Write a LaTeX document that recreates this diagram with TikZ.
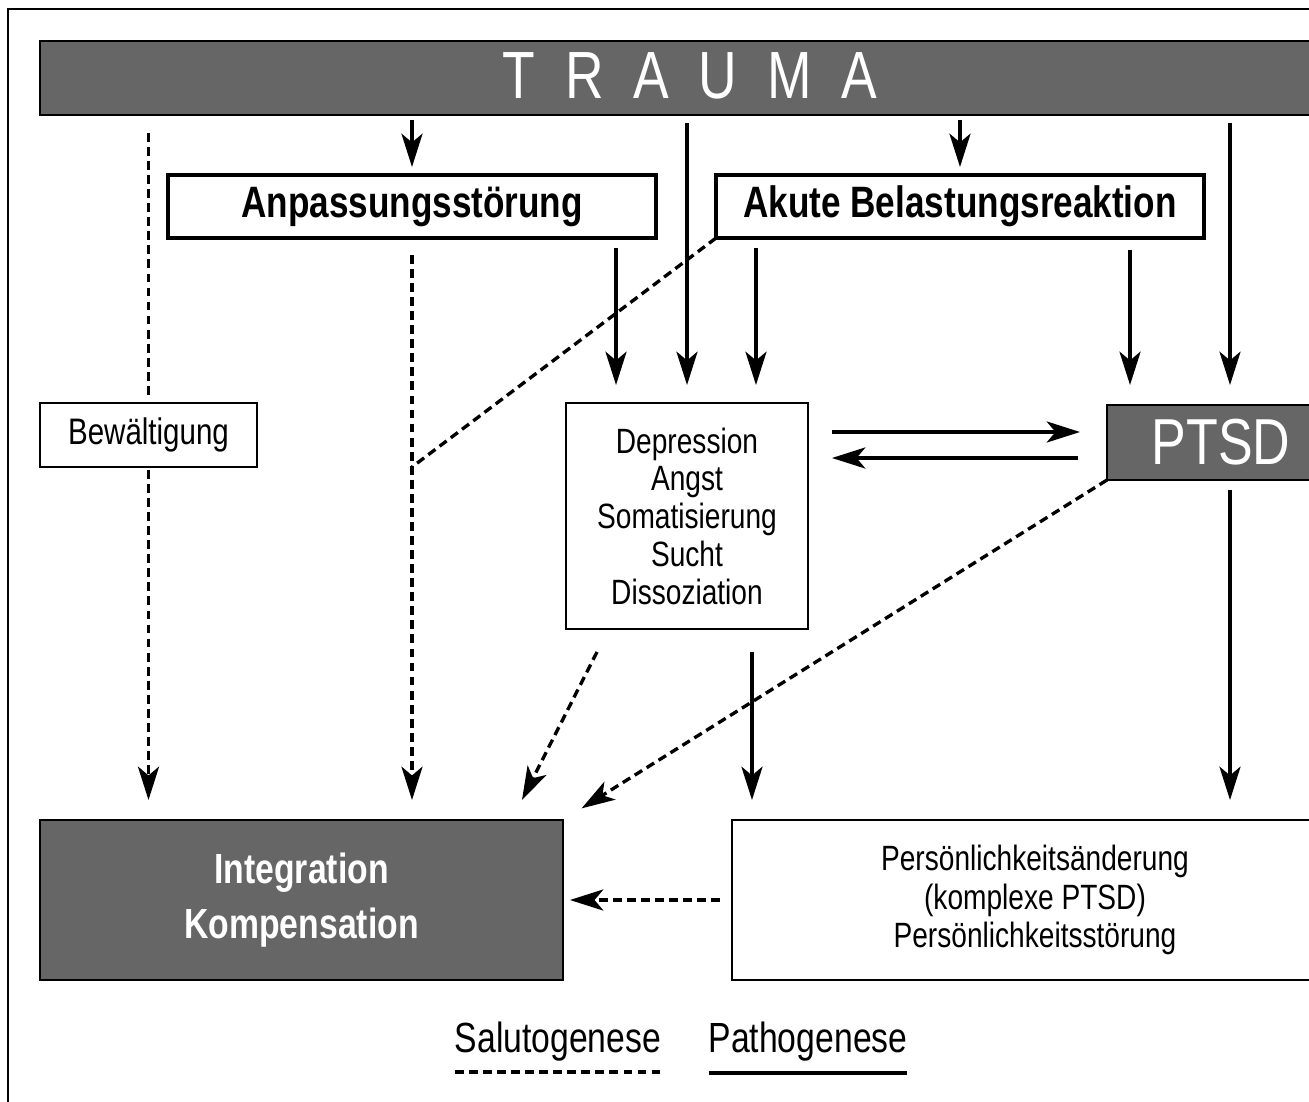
\documentclass[tikz,border=0pt]{standalone}
\usepackage{fontspec}
\setmainfont{Liberation Sans}[FakeStretch=0.8]
\usetikzlibrary{arrows.meta,calc}
\definecolor{boxgray}{HTML}{666666}
\begin{document}
\begin{tikzpicture}[x=0.02cm,y=-0.02cm,
  every node/.style={inner sep=0pt, outer sep=0pt},
  graybox/.style={draw=black, fill=boxgray, line width=1.2pt, text=white},
  thickbox/.style={draw=black, fill=white, line width=2pt},
  thinbox/.style={draw=black, fill=white, line width=1.3pt},
  tip/.style={-{Stealth[length=19pt,width=12pt,inset=5pt]}},
  sline/.style={line width=1.9pt},
  dline/.style={line width=1.9pt, dash pattern=on 5pt off 3pt},
  boldlab/.style={font=\fontsize{25}{30}\selectfont\bfseries},
  midlab/.style={font=\fontsize{20}{21.5}\selectfont, align=center},
]
\useasboundingbox (0,0) rectangle (1309,1102);
\clip (0,0) rectangle (1309,1102);

% frame
\draw[line width=1.3pt] (8,1110) -- (8,9) -- (1320,9);

% nodes
\node[graybox, minimum width=26.04cm, minimum height=1.48cm] (trauma) at (691,78) {};
\node[text=white, font=\fontsize{38}{40}\selectfont] (traumatext) at (690,76) {\spaceskip=17pt T R A U M A};

\node[thickbox, minimum width=9.76cm, minimum height=1.26cm, boldlab] (anp) at (412,206.5) {Anpassungsstörung};
\node[thickbox, minimum width=9.76cm, minimum height=1.26cm, boldlab] (akute) at (960,206.5) {Akute Belastungsreaktion};

\node[thinbox, minimum width=4.34cm, minimum height=1.28cm, font=\fontsize{21}{24}\selectfont] (bew) at (148.5,435) {Bewältigung};

\node[thinbox, minimum width=4.84cm, minimum height=4.52cm, midlab] (dep) at (687,516)
  {Depression\\Angst\\Somatisierung\\Sucht\\Dissoziation};

\node[graybox, minimum width=4.92cm, minimum height=1.5cm] (ptsd) at (1230,442.5) {};
\node[text=white, font=\fontsize{37}{40}\selectfont] (ptsdtext) at (1221,442) {PTSD};

\node[graybox, minimum width=10.46cm, minimum height=3.2cm, align=center,
  font=\fontsize{24}{31}\selectfont\bfseries] (integ) at (301.5,900) {Integration\\Kompensation};

\node[thinbox, minimum width=12.12cm, minimum height=3.2cm, midlab,
  font=\fontsize{20}{22}\selectfont] (pers) at (1035,900)
  {Persönlichkeitsänderung\\(komplexe PTSD)\\Persönlichkeitsstörung};

% legend
\node[anchor=base, font=\fontsize{24}{28}\selectfont] (sal) at (558,1052) {Salutogenese};
\node[anchor=base, font=\fontsize{24}{28}\selectfont] (path) at (808,1052) {Pathogenese};
\draw[dline] ([yshift=-0.4cm]sal.base west) -- ([yshift=-0.4cm]sal.base east);
\draw[sline] ([yshift=-0.42cm]path.base west) -- ([yshift=-0.42cm]path.base east);

% helper coordinates
\coordinate (d1) at ([xshift=-1.42cm]dep.north);
\coordinate (d2) at ([xshift=1.38cm]dep.north);
\coordinate (p1) at ([xshift=-2cm]ptsd.north);
\coordinate (d3) at ([xshift=1.3cm]dep.south);
\coordinate (ds) at ([xshift=-1.8cm,yshift=-0.46cm]dep.south);
\coordinate (de) at ([xshift=4.41cm,yshift=0.4cm]integ.north);
\coordinate (r1) at ([yshift=0.21cm]ptsd.west);
\coordinate (r2) at ([yshift=-0.31cm]ptsd.west);
\coordinate (jn) at (anp.south |- bew.south);

% solid connectors
\draw[sline, tip, shorten <=0.1cm, shorten >=0.16cm] (trauma.south -| anp.north) -- (anp.north);
\draw[sline, tip, shorten <=0.1cm, shorten >=0.16cm] (trauma.south -| akute.north) -- (akute.north);
\draw[sline, tip, shorten <=0.16cm, shorten >=0.36cm] (trauma.south -| dep.north) -- (dep.north);
\draw[sline, tip, shorten <=0.16cm, shorten >=0.4cm] (trauma.south -| ptsd.north) -- (ptsd.north);
\draw[sline, tip, shorten <=0.2cm, shorten >=0.36cm] (anp.south -| d1) -- (d1);
\draw[sline, tip, shorten <=0.2cm, shorten >=0.36cm] (akute.south -| d2) -- (d2);
\draw[sline, tip, shorten <=0.24cm, shorten >=0.4cm] (akute.south -| p1) -- (p1);
\draw[sline, tip, shorten <=0.48cm, shorten >=0.54cm] (dep.east |- r1) -- (r1);
\draw[sline, tip, shorten <=0.58cm, shorten >=0.48cm] (r2) -- (dep.east |- r2);
\draw[sline, tip, shorten <=0.46cm, shorten >=0.4cm] (d3) -- (d3 |- pers.north);
\draw[sline, tip, shorten <=0.2cm, shorten >=0.4cm] (ptsd.south) -- (ptsd.south |- pers.north);

% dashed connectors
\draw[dline, shorten <=0.36cm, shorten >=0.06cm] (trauma.south -| bew.north) -- (bew.north);
\draw[dline, tip, shorten <=0.06cm, shorten >=0.4cm] (bew.south) -- (bew.south |- integ.north);
\draw[dline, tip, shorten <=0.34cm, shorten >=0.4cm] (anp.south) -- (anp.south |- integ.north);
\draw[dline] (akute.south west) -- (jn);
\draw[dline, tip] (ds) -- (de);
\draw[dline, tip, shorten >=0.44cm] (ptsd.south west) -- (integ.north east);
\draw[dline, tip, shorten <=0.24cm, shorten >=0.14cm] (pers.west) -- (integ.east);
\end{tikzpicture}
\end{document}
